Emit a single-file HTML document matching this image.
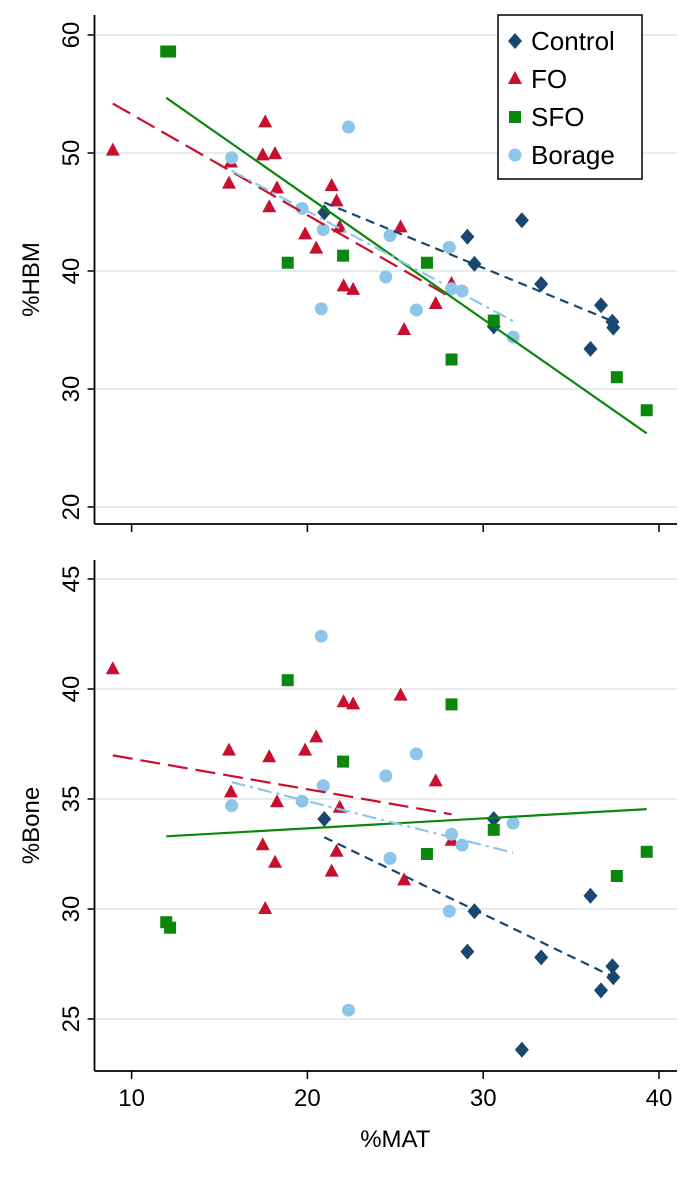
<!DOCTYPE html>
<html><head><meta charset="utf-8">
<style>
html,body{margin:0;padding:0;background:#fff;}
svg{display:block;font-family:"Liberation Sans",Arial,sans-serif;}
</style></head>
<body>
<svg id="chart" width="690" height="1182" viewBox="0 0 690 1182"></svg>
<script>
const groups = ["Control","FO","SFO","Borage"];
const controlMat = [20.96,29.1,29.5,32.2,33.3,36.7,37.35,37.4,36.1,30.6];
const controlHbm = [44.97,42.9,40.6,44.3,38.9,37.1,35.7,35.2,33.4,35.3];
const controlBone = [34.09,28.06,29.9,23.6,27.8,26.3,27.4,26.9,30.6,34.09];
const foMat = [8.93,15.65,15.54,17.6,17.46,18.16,18.27,17.83,21.38,21.66,19.87,20.5,21.84,22.06,22.6,25.3,25.5,27.3,28.2];
const foHbm = [50.2,49.2,47.4,52.6,49.8,49.9,47.0,45.4,47.2,45.9,43.1,41.9,43.7,38.7,38.4,43.7,35.0,37.2,38.9];
const foBone = [40.9,35.3,37.2,30.0,32.9,32.1,34.85,36.9,31.7,32.6,37.2,37.8,34.6,39.4,39.3,39.7,31.3,35.8,33.1];
const sfoMat = [11.97,12.19,18.88,22.03,26.8,30.6,28.2,37.6,39.3];
const sfoHbm = [58.6,58.6,40.7,41.3,40.7,35.8,32.5,31.0,28.2];
const sfoBone = [29.4,29.15,40.4,36.7,32.5,33.6,39.3,31.5,32.6];
const borMat = [15.69,19.7,20.9,20.79,22.34,24.7,24.46,26.2,28.07,28.2,28.8,31.7];
const borHbm = [49.6,45.3,43.5,36.8,52.2,43.0,39.5,36.7,42.0,38.5,38.3,34.4];
const borBone = [34.7,34.9,35.6,42.4,25.4,32.3,36.05,37.05,29.9,33.4,32.9,33.9];
const xTicks = [10,20,30,40];
const hbmTicks = [20,30,40,50,60];
const boneTicks = [25,30,35,40,45];

const NS="http://www.w3.org/2000/svg";
const svg=document.getElementById('chart');
function el(tag,attrs,parent){const e=document.createElementNS(NS,tag);for(const k in attrs)e.setAttribute(k,attrs[k]);(parent||svg).appendChild(e);return e;}

const X0=94.5, X1=677;
function xs(v){return 131.6+(v-10)*17.58;}
const topP={yTop:15,yAxis:524,sy:v=>35+(60-v)*11.8};
const botP={yTop:560,yAxis:1071,sy:v=>579+(45-v)*22.0};

const colors={Control:"#1a476f",FO:"#c8102e",SFO:"#0b870b",Borage:"#8ec6ea"};
const dashes={Control:"9,6",FO:"20,8",SFO:"none",Borage:"14,5,3,5"};

function marker(g,x,y,parent){
  const c=colors[g];let m;
  if(g==="Control") m=el('polygon',{points:`${x},${y-8} ${x+7},${y} ${x},${y+8} ${x-7},${y}`,fill:c},parent);
  else if(g==="FO") m=el('polygon',{points:`${x},${y-8} ${x+7},${y+5} ${x-7},${y+5}`,fill:c},parent);
  else if(g==="SFO") m=el('rect',{x:x-6,y:y-6,width:12,height:12,fill:c},parent);
  else m=el('circle',{cx:x,cy:y,r:6.5,fill:c},parent);
  return m;
}
function fit(xa,ya){const n=xa.length;let mx=0,my=0;for(let i=0;i<n;i++){mx+=xa[i];my+=ya[i];}mx/=n;my/=n;let sxy=0,sxx=0;for(let i=0;i<n;i++){sxy+=(xa[i]-mx)*(ya[i]-my);sxx+=(xa[i]-mx)**2;}const b=sxy/sxx;return [my-b*mx,b];}

function panel(P,ticks,title,data,name,showXLabels){
  const g=el('g',{});
  
  
  ticks.forEach(t=>{
    const y=P.sy(t);
    const gl=el('line',{x1:X0+1,x2:X1,y1:y,y2:y,stroke:"#e6ecee","stroke-width":2},g);
    
    
    el('line',{x1:X0-7,x2:X0,y1:y,y2:y,stroke:"#000","stroke-width":1.5},g);
    const tl=el('text',{x:0,y:0,transform:`translate(79,${y}) rotate(-90)`,"text-anchor":"middle","font-size":24,fill:"#000"},g);
    tl.textContent=t;
    
    
  });
  el('line',{x1:X0,x2:X0,y1:P.yTop,y2:P.yAxis,stroke:"#000","stroke-width":1.8},g);
  el('line',{x1:X0,x2:X1,y1:P.yAxis,y2:P.yAxis,stroke:"#000","stroke-width":1.8},g);
  xTicks.forEach(t=>{
    el('line',{x1:xs(t),x2:xs(t),y1:P.yAxis,y2:P.yAxis+8,stroke:"#000","stroke-width":1.5},g);
    if(showXLabels){
      const xl=el('text',{x:xs(t),y:P.yAxis+35,"text-anchor":"middle","font-size":24,fill:"#000"},g);
      xl.textContent=t;
      
      
    }
  });
  const mid=(P.yTop+P.yAxis)/2;
  const yt=el('text',{x:0,y:0,transform:`translate(39,${mid+10}) rotate(-90)`,"text-anchor":"middle","font-size":24,fill:"#000"},g);
  yt.textContent=title;
  
  
  data.forEach(d=>{
    d.mat.forEach((m,i)=>{
      const mk=marker(d.g,xs(m),P.sy(d.y[i]),g);
      
      
    });
  });
  data.forEach(d=>{
    const [a,b]=fit(d.mat,d.y);
    const lo=Math.min(...d.mat),hi=Math.max(...d.mat);
    const ln=el('line',{x1:xs(lo),y1:P.sy(a+b*lo),x2:xs(hi),y2:P.sy(a+b*hi),stroke:colors[d.g],"stroke-width":2.2,"stroke-dasharray":dashes[d.g]},g);
    
    
  });
}

panel(topP,hbmTicks,"%HBM",[
  {g:"Control",mat:controlMat,y:controlHbm},
  {g:"FO",mat:foMat,y:foHbm},
  {g:"SFO",mat:sfoMat,y:sfoHbm},
  {g:"Borage",mat:borMat,y:borHbm}],"hbm-panel",false);
panel(botP,boneTicks,"%Bone",[
  {g:"Control",mat:controlMat,y:controlBone},
  {g:"FO",mat:foMat,y:foBone},
  {g:"SFO",mat:sfoMat,y:sfoBone},
  {g:"Borage",mat:borMat,y:borBone}],"bone-panel",true);

const xt=el('text',{x:xs(25),y:1147,"text-anchor":"middle","font-size":24,fill:"#000"});
xt.textContent="%MAT";



const lg=el('g',{});


el('rect',{x:498,y:15,width:144,height:164,fill:"#fff",stroke:"#000","stroke-width":1.5},lg);
groups.forEach((gname,i)=>{
  const y=41+i*38;
  const e=el('g',{},lg);
  
  
  marker(gname,515,y,e);
  const t=el('text',{x:531,y:y+9,"font-size":26,fill:"#000"},e);
  t.textContent=gname;
});
</script>
</body></html>
